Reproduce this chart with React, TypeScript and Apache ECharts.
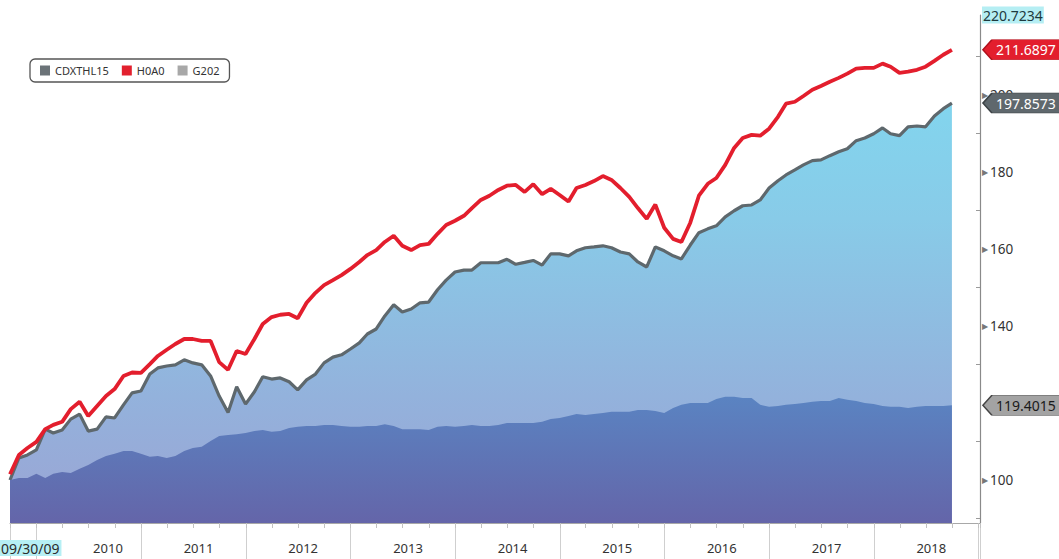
import React, { useEffect, useRef } from "react";
import * as echarts from "echarts";

// Monthly closes, 09/30/2009 .. 09/30/2018
const seriesNames = ["CDXTHL15", "H0A0", "G202"];
const startLabel = "09/30/09";

const h0a0 = [
  101.5, 106.5, 108.3, 109.9, 113.2, 114.3, 115.1, 118.4, 120.3, 116.6,
  119.2, 121.8, 123.6, 127.0, 127.9, 127.8, 130.1, 132.2, 133.8, 135.3,
  136.6, 136.6, 136.1, 136.1, 130.6, 128.6, 133.5, 132.7, 136.6, 140.5,
  142.3, 142.9, 143.1, 142.0, 146.0, 148.6, 150.6, 151.9, 153.2, 154.8,
  156.6, 158.4, 159.7, 161.8, 163.4, 160.8, 159.7, 161.0, 161.3, 163.9,
  166.2, 167.3, 168.6, 170.6, 172.7, 173.8, 175.3, 176.4, 176.6, 174.8,
  176.8, 174.2, 175.6, 174.0, 172.3, 175.8, 176.6, 177.6, 178.9, 177.9,
  175.8, 173.5, 170.6, 167.8, 171.5, 165.5, 162.6, 161.8, 166.8, 173.8,
  176.9, 178.4, 181.8, 186.2, 188.8, 189.6, 189.4, 191.2, 194.3, 197.7,
  198.2, 199.7, 201.3, 202.3, 203.4, 204.4, 205.5, 206.8, 207.0, 207.0,
  208.1, 207.3, 205.7, 206.0, 206.5, 207.3, 208.8, 210.4, 211.6897,
];

const cdxthl15 = [
  100.0, 105.7, 106.5, 107.8, 113.2, 112.2, 113.0, 115.8, 117.1, 112.7,
  113.2, 116.4, 116.1, 119.5, 122.6, 123.1, 127.5, 129.1, 129.6, 129.9,
  131.2, 130.4, 129.9, 127.0, 121.8, 117.5, 124.2, 119.7, 122.9, 126.8,
  126.2, 126.5, 125.5, 123.4, 126.0, 127.5, 130.4, 131.9, 132.5, 134.0,
  135.6, 137.9, 139.2, 142.6, 145.5, 143.6, 144.4, 146.0, 146.2, 149.4,
  151.9, 154.0, 154.5, 154.5, 156.4, 156.4, 156.4, 157.3, 156.0, 156.5,
  157.0, 155.8, 158.7, 158.7, 158.2, 159.5, 160.3, 160.5, 160.8, 160.3,
  159.2, 158.7, 156.6, 155.3, 160.5, 159.5, 158.2, 157.4, 161.0, 164.2,
  165.2, 166.0, 168.3, 169.9, 171.2, 171.4, 172.7, 175.8, 177.7, 179.2,
  180.5, 181.8, 182.9, 183.1, 184.2, 185.2, 186.0, 188.1, 188.8, 189.9,
  191.4, 189.9, 189.4, 191.7, 191.9, 191.7, 194.5, 196.4, 197.8573,
];

const g202 = [
  100.0, 100.5, 100.5, 101.6, 100.5, 101.6, 102.1, 101.8, 102.9, 103.9,
  105.2, 106.2, 106.8, 107.5, 107.5, 106.8, 106.0, 106.2, 105.7, 106.2,
  107.5, 108.3, 108.6, 110.1, 111.4, 111.7, 111.9, 112.2, 112.7, 113.0,
  112.5, 112.7, 113.5, 113.8, 114.0, 114.0, 114.3, 114.3, 114.0, 113.8,
  113.8, 114.0, 114.0, 114.5, 114.0, 113.2, 113.2, 113.2, 113.0, 113.8,
  114.0, 113.8, 114.0, 114.3, 114.0, 114.0, 114.3, 114.8, 114.8, 114.8,
  114.8, 115.1, 115.8, 116.1, 116.6, 117.1, 116.9, 117.1, 117.4, 117.7,
  117.7, 117.7, 118.2, 118.2, 117.9, 117.4, 118.7, 119.5, 120.0, 120.0,
  120.0, 121.0, 121.6, 121.6, 121.3, 121.3, 119.5, 119.0, 119.2, 119.5,
  119.7, 120.0, 120.3, 120.5, 120.5, 121.3, 120.8, 120.5, 120.0, 119.7,
  119.2, 119.0, 119.0, 118.7, 119.0, 119.2, 119.2, 119.2, 119.4015,
];

const lastLabels = ["197.8573", "211.6897", "119.4015"];
const yMin = 88.83;
const yMax = 220.7234;
const yMaxLabel = "220.7234";
const hiddenYLabels = [120, 220];

const DAY = 86400000;
const dates = h0a0.map((_, i) => new Date(2009, 9 + i, 0).getTime());
const xMin = new Date(2009, 8, 30).getTime();
const xMax = new Date(2019, 0, 6).getTime();
const LABEL_SHIFT = 200 * DAY;

const toPairs = (vals: number[]) => vals.map((v, i) => [dates[i], v]);

const tagPath = "path://M0,10 L9,0 L80,0 L80,20 L9,20 Z";

function tag(series: number[], text: string, fill: string, stroke: string, color: string) {
  const n = series.length - 1;
  return {
    silent: true,
    symbol: tagPath,
    symbolSize: [80, 20],
    symbolKeepAspect: false,
    symbolOffset: [71, 0],
    itemStyle: { color: fill, borderColor: stroke, borderWidth: 1 },
    label: {
      show: true,
      position: "inside",
      offset: [3, 0],
      formatter: text,
      color,
      fontSize: 14,
      fontFamily: "Noto Sans",
    },
    data: [{ coord: [dates[n], series[n]] }],
  };
}

export default function App() {
  const ref = useRef<HTMLDivElement>(null);

  useEffect(() => {
    if (!ref.current) return;
    const chart = echarts.init(ref.current, undefined, { renderer: "svg" });

    const grayFill = new echarts.graphic.LinearGradient(
      0, 15, 0, 523,
      [
        { offset: 0, color: "#7edcf2" },
        { offset: 0.4, color: "#88cbe8" },
        { offset: 0.75, color: "#93b2dc" },
        { offset: 1, color: "#9ba4d4" },
      ],
      true
    );
    const blueFill = new echarts.graphic.LinearGradient(
      0, 395, 0, 523,
      [
        { offset: 0, color: "#5a84c2" },
        { offset: 1, color: "#6465a9" },
      ],
      true
    );

    const timeCommon = {
      type: "time",
      splitLine: { show: false },
    };

    chart.setOption({
      animation: false,
      backgroundColor: "#ffffff",
      textStyle: { fontFamily: "Noto Sans" },
      grid: { left: 10, right: 79, top: 15, bottom: 36 },
      legend: {
        data: seriesNames,
        left: 30,
        top: 59,
        padding: [6, 10, 6, 10],
        itemGap: 13,
        itemWidth: 10,
        itemHeight: 10,
        icon: "rect",
        backgroundColor: "#ffffff",
        borderColor: "#555555",
        borderWidth: 1.3,
        borderRadius: 5,
        textStyle: { fontSize: 11, color: "#333333", fontFamily: "Noto Sans" },
        z: 10,
      },
      xAxis: [
        {
          ...timeCommon,
          min: xMin,
          max: xMax,
          splitNumber: 10,
          minInterval: 365 * DAY,
          maxInterval: 366 * DAY,
          axisLine: { show: true, lineStyle: { color: "#a8a8a8", width: 1 } },
          axisTick: { show: true, length: 36, lineStyle: { color: "#cfcfcf", width: 1 } },
          minorTick: { show: false },
          axisLabel: { show: false },
        },
        {
          ...timeCommon,
          min: xMin - LABEL_SHIFT,
          max: xMax - LABEL_SHIFT,
          position: "bottom",
          splitNumber: 10,
          minInterval: 365 * DAY,
          maxInterval: 366 * DAY,
          axisLine: { show: false },
          axisTick: { show: false },
          axisLabel: {
            formatter: (v: number) => {
              const y = new Date(v).getFullYear();
              return y === 2010 ? "{p|" + y + "}" : "{n|" + y + "}";
            },
            margin: 18,
            color: "#333333",
            fontSize: 13,
            fontFamily: "Noto Sans",
            showMinLabel: false,
            showMaxLabel: false,
            rich: {
              n: { fontSize: 13, color: "#333333" },
              p: { fontSize: 13, color: "#333333", padding: [0, 0, 0, 28] },
            },
          },
        },
        {
          ...timeCommon,
          min: xMin,
          max: xMax,
          position: "bottom",
          splitNumber: 37,
          minInterval: 89 * DAY,
          maxInterval: 93 * DAY,
          axisLine: { show: false },
          axisTick: { show: true, length: 5, lineStyle: { color: "#c2c2c2" } },
          axisLabel: { show: false },
        },
      ],
      yAxis: {
        type: "value",
        position: "right",
        min: yMin,
        max: yMax,
        splitNumber: 7,
        axisLine: { show: true, lineStyle: { color: "#8a8a8a", width: 1.2 } },
        axisTick: { show: false, inside: true },
        minorTick: { show: true, splitNumber: 2, length: 4, lineStyle: { color: "#9a9a9a" } },
        splitLine: { show: false },
        axisLabel: {
          margin: 2,
          showMinLabel: false,
          formatter: (v: number) => {
            if (Math.abs(v - yMax) < 0.01) return "{hi|" + yMaxLabel + "}";
            if (Math.abs(v % 20) > 0.001 || hiddenYLabels.includes(v)) return "";
            return "{t|▶}{v|" + v + "}";
          },
          rich: {
            t: { fontSize: 8, color: "#777777", padding: [0, 2, 0, 0] },
            v: { fontSize: 13.5, color: "#333333", fontFamily: "Noto Sans" },
            hi: {
              fontSize: 14,
              color: "#1d3a3e",
              backgroundColor: "#b5eef3",
              padding: [2, 1, 1, 1],
              fontFamily: "Noto Sans",
            },
          },
        },
      },
      series: [
        {
          name: seriesNames[0],
          type: "line",
          data: toPairs(cdxthl15),
          showSymbol: false,
          z: 2,
          itemStyle: { color: "#6b7378" },
          lineStyle: { color: "#5e686d", width: 3.2 },
          areaStyle: { color: grayFill, opacity: 1 },
          markPoint: tag(cdxthl15, lastLabels[0], "#5f686d", "#3c4245", "#ffffff"),
        },
        {
          name: seriesNames[2],
          type: "line",
          data: toPairs(g202),
          showSymbol: false,
          z: 3,
          itemStyle: { color: "#a8a8a8" },
          lineStyle: { width: 0 },
          areaStyle: { color: blueFill, opacity: 1 },
          markPoint: tag(g202, lastLabels[2], "#a3a3a3", "#444444", "#1a1a1a"),
        },
        {
          name: seriesNames[1],
          type: "line",
          data: toPairs(h0a0),
          showSymbol: false,
          z: 5,
          itemStyle: { color: "#e2202e" },
          lineStyle: { color: "#e31e2d", width: 3.8 },
          markPoint: tag(h0a0, lastLabels[1], "#e31e2d", "#b0101c", "#ffffff"),
        },
      ],
      graphic: [
        {
          type: "text",
          left: 0,
          top: 540,
          z: 20,
          style: {
            text: startLabel,
            fill: "#2b2b2b",
            font: '14px "Noto Sans"',
            backgroundColor: "#b6eff4",
            padding: [1, 2, 1, 1],
          },
        },
        {
          type: "group",
          z: 20,
          children: [
            {
              type: "rect",
              shape: { x: 28, y: 500, width: 34, height: 16 },
              style: { fill: "rgba(0,0,0,0)", stroke: "#1f2040", lineWidth: 1.5 },
            },
            {
              type: "rect",
              shape: { x: 34, y: 503, width: 10, height: 10 },
              style: { fill: "rgba(0,0,0,0)", stroke: "#d3d6ef", lineWidth: 1 },
            },
            {
              type: "polyline",
              shape: { points: [[35.5, 510], [37.5, 506.5], [40, 510], [42.5, 506]] },
              style: { fill: "none", stroke: "#d3d6ef", lineWidth: 1 },
            },
            {
              type: "text",
              x: 51,
              y: 503,
              style: { text: "▾", fill: "#b9bcd8", font: '8px "Noto Sans"' },
            },
          ],
        },
      ],
    });

    return () => chart.dispose();
  }, []);

  return (
    <div
      ref={ref}
      style={{ position: "fixed", left: 0, top: 0, width: 1059, height: 559 }}
    />
  );
}
